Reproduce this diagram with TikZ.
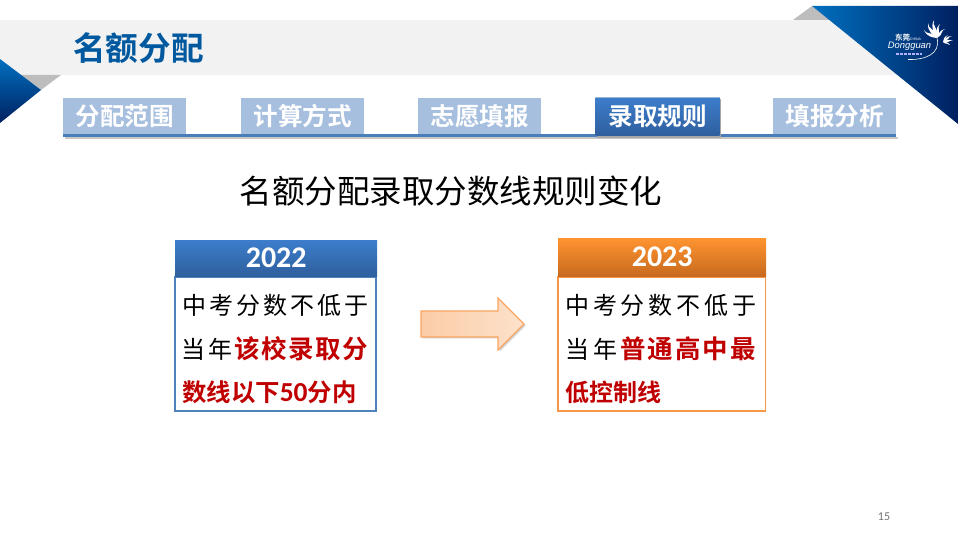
\documentclass[tikz,border=0pt]{standalone}
\usepackage{fontspec}
\setmainfont{Noto Sans CJK SC}[BoldFont={Noto Sans CJK SC Bold}]
\newfontfamily\spaced{Noto Sans CJK SC}[LetterSpace=13]
\newfontfamily\spacedwide{Noto Sans CJK SC}[LetterSpace=16]
\newfontfamily\spacedb{Noto Sans CJK SC Bold}[LetterSpace=6]
\newfontfamily\spacedbw{Noto Sans CJK SC Bold}[LetterSpace=8]
\newfontfamily\tight{Noto Sans CJK SC Bold}
\newfontfamily\latin{Carlito}[BoldFont={Carlito Bold}]
\newfontfamily\logofont{Liberation Sans}
\definecolor{navy}{HTML}{002060}
\definecolor{brightblue}{HTML}{0070C0}
\definecolor{titleblue}{HTML}{00599F}
\definecolor{tabpale}{HTML}{A7BFDE}
\definecolor{ruleblue}{HTML}{4A7EBB}
\definecolor{redtext}{HTML}{C00000}
\definecolor{boxblue}{HTML}{4F81BD}
\definecolor{boxorange}{HTML}{F79646}
\definecolor{headblueT}{HTML}{3C7DCB}
\definecolor{headblueB}{HTML}{2F5F9E}
\definecolor{headoranT}{HTML}{FF9431}
\definecolor{headoranB}{HTML}{C76A1E}
\tikzset{
  x=1pt,y=-1pt,
  tabbox/.style={fill=tabpale,text=white,minimum width=123pt,minimum height=36pt,inner sep=0pt,anchor=north west,font=\fontsize{24.6}{25}\selectfont\bfseries},
  yearbox/.style={inner sep=0pt,anchor=north west,text=white,font=\latin\fontsize{30}{30}\selectfont\bfseries},
  bodybox/.style={draw=#1,line width=1.6pt,fill=white,inner sep=0pt,anchor=north west},
  bodyline/.style={anchor=west,inner sep=0pt,font=\fontsize{24}{24}\selectfont},
  logotext/.style={text=white,inner sep=0pt},
}
\newcommand{\redb}[1]{\hspace{2pt}\textcolor{redtext}{\spacedb\fontsize{25.5}{24}\selectfont #1}}
\newcommand{\redc}[1]{\hspace{3pt}\textcolor{redtext}{\spacedbw\fontsize{25.5}{24}\selectfont #1}}
\newcommand{\petal}[4]{\fill[white] (#1,#2) .. controls ({#1+0.5*(#3)-0.22*(#4)},{#2+0.5*(#4)+0.22*(#3)}) and ({#1+0.7*(#3)+0.2*(#4)},{#2+0.7*(#4)-0.2*(#3)}) .. ({#1+(#3)},{#2+(#4)}) .. controls ({#1+0.6*(#3)+0.3*(#4)},{#2+0.6*(#4)-0.3*(#3)}) and ({#1+0.2*(#3)+0.1*(#4)},{#2+0.2*(#4)-0.1*(#3)}) .. (#1,#2) -- cycle;}
\begin{document}
\begin{tikzpicture}
\useasboundingbox (0,0) rectangle (958,534);
\fill[white] (0,0) rectangle (958,534);
% top band and corners
\fill[black!5] (0,20) rectangle (900,75);
\fill[black!26] (793,20) -- (812,6) -- (830,20) -- cycle;
\fill[black!26] (20,75) -- (61,75) -- (41,90) -- cycle;
\path[left color=brightblue,right color=navy] (812,6) -- (958,6) -- (958,124) -- cycle;
\path[top color=brightblue,bottom color=navy] (0,59) -- (41,90) -- (0,123) -- cycle;
% logo
\node[logotext,font=\bfseries\fontsize{7.5}{7.5}\selectfont] (logocn) at (902.5,37.5) {东莞};
\node[logotext,font=\logofont\fontsize{3.6}{4}\selectfont] (logoen) at (915.5,39.5) {CHINA};
\node[logotext,font=\logofont\itshape\fontsize{9.4}{9.4}\selectfont] (logoname) at (909.5,46.5) {Dongguan};
\petal{937}{38}{-13}{-8}
\petal{937}{38}{-9}{-15}
\petal{937}{38}{-3}{-18}
\petal{937}{38}{3}{-14}
\petal{937}{38}{8}{-9}
\petal{943}{42}{5}{-7}
\petal{943}{42}{9}{-6}
\petal{943}{42}{10}{-1}
\petal{943}{42}{7}{3}
\draw[white,line width=0.6pt] (908,59.5) .. controls (925,60) and (941,54) .. (937,38);
\draw[white!70!blue,line width=1.4pt,dash pattern=on 2.5pt off 1.5pt] (896,54) -- (922,54);
% title
\node[inner sep=0pt,anchor=west,text=titleblue,font=\fontsize{32.6}{33}\selectfont\bfseries] (title) at (73,48) {名额分配};
% tabs
\fill[black!22] (65,137) rectangle (898,139);
\node[tabbox] (tabA) at (63,98) {分配范围};
\node[tabbox] (tabB) at (241,98) {计算方式};
\node[tabbox] (tabC) at (418,98) {志愿填报};
\node[tabbox] (tabE) at (773,98) {填报分析};
\fill[ruleblue] (63,134) rectangle (896,137);
\fill[black!35] (597,99) rectangle (721,138);
\node[tabbox,fill=none,top color=headblueT,bottom color=headblueB,minimum width=124pt,minimum height=38pt] (tabD) at (595.5,97.5) {录取规则};
\draw[boxblue!60!white,line width=1pt] (596,98) -- (719,98);
% heading
\node[inner sep=0pt,font=\fontsize{32.5}{32.5}\selectfont] (heading) at (451,191) {名额分配录取分数线规则变化};
% 2022
\node[bodybox=boxblue,minimum width=201.4pt,minimum height=134.4pt] (boxA) at (174,276) {};
\node[yearbox,top color=headblueT,bottom color=headblueB,minimum width=202pt,minimum height=36pt] (yearA) at (175,240) {2022};
\node[bodyline] (a1) at (182,305) {\spaced 中考分数不低于};
\node[bodyline] (a2) at (181.5,349) {\spaced 当年\redb{该校录取分}};
\node[bodyline] (a3) at (182,392) {\textcolor{redtext}{\tight\fontsize{24.4}{24}\selectfont 数线以下{\latin\bfseries\fontsize{27.5}{24}\selectfont 50}分内}};
% arrow
\fill[black!18] (422.5,312.5) -- (499.5,312.5) -- (499.5,299.5) -- (525.5,325.5) -- (499.5,351.5) -- (499.5,338.5) -- (422.5,338.5) -- cycle;
\path[left color=boxorange!48!white,right color=boxorange!28!white,draw=boxorange!85!white,line width=1.1pt]
  (421,311) -- (498,311) -- (498,298) -- (524,324) -- (498,350) -- (498,337) -- (421,337) -- cycle;
% 2023
\node[bodybox=boxorange,minimum width=207.4pt,minimum height=134.4pt] (boxB) at (557.3,276) {};
\node[yearbox,top color=headoranT,bottom color=headoranB,minimum width=208pt,minimum height=38pt] (yearB) at (558,238) {\raisebox{1pt}{2023}};
\node[bodyline] (b1) at (565,305) {\spacedwide 中考分数不低于};
\node[bodyline] (b2) at (565,349) {\spacedwide 当年\redc{普通高中最}};
\node[bodyline] (b3) at (565,392) {\textcolor{redtext}{\tight 低控制线}};
% page number
\node[inner sep=0pt,text=black!55,font=\latin\fontsize{12}{12}\selectfont] (page) at (884,517) {15};
\end{tikzpicture}
\end{document}
